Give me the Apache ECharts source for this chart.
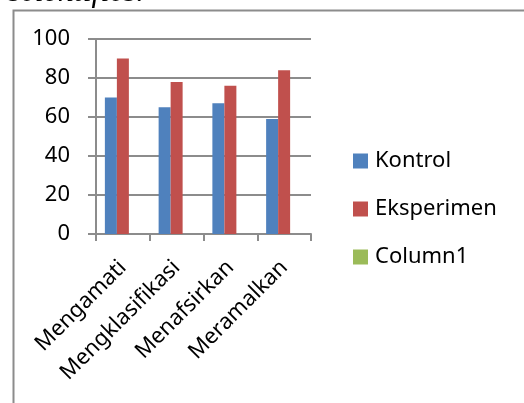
<!DOCTYPE html>
<html>
<head>
<meta charset="utf-8">
<script src="https://cdn.jsdelivr.net/npm/echarts@6/dist/echarts.min.js"></script>
<style>
  html, body { margin: 0; padding: 0; background: #fff; }
  #chart { width: 524px; height: 403px; }
</style>
</head>
<body>
<div id="chart"></div>
<script>
// Science process skills: control vs experiment class scores
var categories = ['Mengamati', 'Mengklasifikasi', 'Menafsirkan', 'Meramalkan'];
var kontrol = [70, 65, 67, 59];
var eksperimen = [90, 78, 76, 84];
var column1 = [null, null, null, null];
var seriesNames = ['Kontrol', 'Eksperimen', 'Column1'];
var seriesColors = ['#4F81BD', '#C0504D', '#9BBB59'];

var FONT = '"Noto Sans", "Open Sans", sans-serif';
var GRID_COLOR = '#8c8c8c';

var chart = echarts.init(document.getElementById('chart'), null, { renderer: 'canvas' });

chart.setOption({
  animation: false,
  backgroundColor: '#ffffff',
  textStyle: { fontFamily: FONT },
  graphic: [
    {
      // caption line above the chart frame, mostly cut off at the top edge
      type: 'text',
      x: 8,
      y: -7,
      style: {
        text: 'scientifics.',
        font: 'italic 32px "Liberation Serif", "DejaVu Serif", serif',
        fill: '#000',
        verticalAlign: 'middle'
      }
    },
    {
      // chart frame
      type: 'rect',
      shape: { x: 13.5, y: 10.5, width: 700, height: 600 },
      style: { fill: 'none', stroke: GRID_COLOR, lineWidth: 2 },
      silent: true,
      z: -1
    }
  ],
  legend: {
    orient: 'vertical',
    left: 353,
    top: 149,
    padding: 0,
    itemWidth: 15,
    itemHeight: 15,
    itemGap: 24,
    icon: 'rect',
    data: seriesNames,
    textStyle: {
      fontFamily: FONT,
      fontSize: 22,
      lineHeight: 24,
      color: '#000',
      padding: [0, 0, 0, 2]
    }
  },
  grid: {
    left: 96,
    right: 213,
    top: 39,
    bottom: 169,
    containLabel: false
  },
  xAxis: {
    type: 'category',
    data: categories,
    boundaryGap: true,
    axisLine: { show: true, lineStyle: { color: GRID_COLOR, width: 2 } },
    axisTick: { show: true, length: 7, lineStyle: { color: GRID_COLOR, width: 2 } },
    axisLabel: {
      rotate: 45,
      margin: 30,
      interval: 0,
      fontFamily: FONT,
      fontSize: 22,
      color: '#000'
    },
    splitLine: { show: false }
  },
  yAxis: {
    type: 'value',
    min: 0,
    max: 100,
    interval: 20,
    axisLine: { show: true, lineStyle: { color: GRID_COLOR, width: 2 } },
    axisTick: { show: true, length: 8, lineStyle: { color: GRID_COLOR, width: 2 } },
    axisLabel: {
      margin: 26,
      fontFamily: FONT,
      fontSize: 22,
      color: '#000'
    },
    splitLine: { show: true, lineStyle: { color: GRID_COLOR, width: 2 } }
  },
  series: [
    { name: seriesNames[0], type: 'bar', data: kontrol, itemStyle: { color: seriesColors[0] }, barWidth: 12, barGap: '0%' },
    { name: seriesNames[1], type: 'bar', data: eksperimen, itemStyle: { color: seriesColors[1] }, barWidth: 12, barGap: '0%' },
    { name: seriesNames[2], type: 'bar', data: column1, itemStyle: { color: seriesColors[2] }, barWidth: 12, barGap: '0%' }
  ]
});
</script>
</body>
</html>
